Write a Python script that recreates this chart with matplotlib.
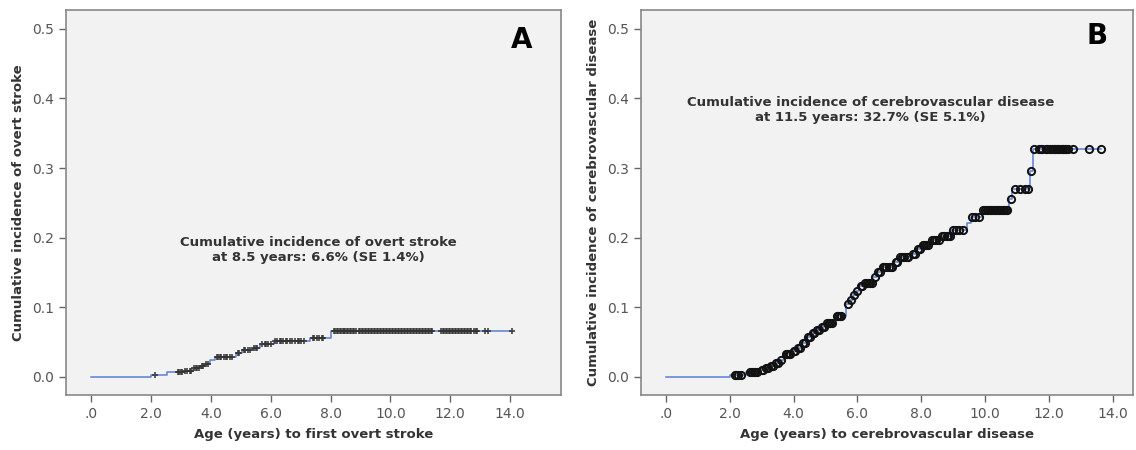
import numpy as np
import matplotlib
matplotlib.use("Agg")
import matplotlib.pyplot as plt

# ---- panel A: overt stroke ----
a_event_t = [0.0, 2.0, 2.55, 3.1, 3.4, 3.65, 3.8, 3.97, 4.15, 4.85, 5.05, 5.4,
             5.65, 6.1, 7.3, 8.02]
a_event_y = [0.0, 0.003, 0.0076, 0.009, 0.013, 0.016, 0.019, 0.024, 0.029, 0.035,
             0.039, 0.042, 0.047, 0.051, 0.056, 0.066]
a_censor_t = [2.15, 2.9, 2.95, 3.0, 3.05, 3.15, 3.2, 3.3, 3.35, 3.45, 3.5, 3.55, 3.6,
              3.7, 3.75, 3.85, 3.9, 4.2, 4.25, 4.3, 4.35, 4.45, 4.5, 4.55, 4.65,
              4.7, 4.9, 4.95, 5.1, 5.15, 5.25, 5.3, 5.45, 5.5, 5.55, 5.7, 5.8,
              5.85, 5.9, 6.0, 6.15, 6.2, 6.3, 6.35, 6.4, 6.5, 6.55, 6.65, 6.7,
              6.8, 6.9, 6.95, 7.0, 7.1, 7.4, 7.45, 7.55, 7.6, 7.7, 7.75,
              8.1, 8.15, 8.2, 8.25, 8.3, 8.35, 8.4, 8.45, 8.5, 8.55, 8.6, 8.65,
              8.7, 8.75, 8.8, 8.85, 8.95, 9.0, 9.05, 9.1, 9.15, 9.2, 9.25, 9.3,
              9.35, 9.4, 9.45, 9.5, 9.55, 9.6, 9.65, 9.7, 9.75, 9.8, 9.85, 9.9,
              9.95, 10.0, 10.05, 10.1, 10.15, 10.2, 10.25, 10.3, 10.35, 10.4,
              10.45, 10.5, 10.55, 10.6, 10.65, 10.7, 10.75, 10.8, 10.85, 10.9,
              10.95, 11.0, 11.05, 11.1, 11.15, 11.2, 11.25, 11.3, 11.35, 11.4,
              11.7, 11.75, 11.8, 11.85, 11.9, 11.95, 12.0, 12.05, 12.1, 12.15,
              12.2, 12.25, 12.3, 12.35, 12.4, 12.45, 12.5, 12.55, 12.6, 12.65,
              12.7, 12.8, 12.85, 12.9, 13.15, 13.25, 14.05]

# ---- panel B: cerebrovascular disease ----
b_event_t = [0.0, 2.0, 2.5, 2.9, 3.1, 3.25, 3.4, 3.55, 3.7, 3.95, 4.1, 4.25, 4.4,
             4.55, 4.7, 4.85, 5.0, 5.3, 5.65, 5.75, 5.85, 5.95, 6.05, 6.2, 6.5,
             6.6, 6.75, 7.15, 7.3, 7.7, 7.85, 8.0, 8.3, 8.6, 8.95, 9.45, 9.55,
             9.9, 10.75, 10.85, 11.4, 11.5]
b_event_y = [0.0, 0.003, 0.007, 0.010, 0.013, 0.016, 0.020, 0.024, 0.033, 0.037,
             0.042, 0.049, 0.058, 0.063, 0.068, 0.072, 0.077, 0.088, 0.105, 0.111,
             0.118, 0.124, 0.130, 0.135, 0.143, 0.150, 0.158, 0.165, 0.172, 0.177,
             0.184, 0.190, 0.196, 0.203, 0.211, 0.221, 0.230, 0.240, 0.255, 0.270,
             0.296, 0.327]
b_censor_t = [2.15, 2.2, 2.25, 2.35, 2.65, 2.7, 2.75, 2.8, 2.85, 3.0, 3.05, 3.15,
              3.2, 3.3, 3.35, 3.45, 3.5, 3.6, 3.75, 3.8, 3.85, 3.9, 4.0, 4.05, 4.15,
              4.2, 4.3, 4.35, 4.45, 4.5, 4.6, 4.65, 4.75, 4.8, 4.9, 4.95, 5.05,
              5.1, 5.15, 5.2, 5.35, 5.4, 5.45, 5.5, 5.7, 5.8, 5.9, 6.0, 6.1, 6.15,
              6.25, 6.3, 6.35, 6.4, 6.45, 6.55, 6.65, 6.7, 6.8, 6.85, 6.9, 7.0,
              7.05, 7.1, 7.2, 7.25, 7.35, 7.4, 7.45, 7.55, 7.6, 7.75, 7.8, 7.9,
              7.95, 8.05, 8.1, 8.15, 8.2, 8.35, 8.4, 8.45, 8.55, 8.65, 8.7, 8.8,
              8.85, 8.9, 9.0, 9.1, 9.2, 9.3, 9.6, 9.7, 9.8, 9.95, 10.0, 10.05, 10.1,
              10.15, 10.2, 10.25, 10.3, 10.35, 10.4, 10.45, 10.5, 10.55, 10.6,
              10.65, 10.7, 10.8, 10.95, 11.1, 11.25, 11.35, 11.45, 11.55, 11.7,
              11.75, 11.8, 11.9, 11.95, 12.05, 12.1, 12.15, 12.2, 12.25, 12.3,
              12.35, 12.4, 12.45, 12.5, 12.55, 12.6, 12.75, 13.25, 13.65]

x_ticks = [0, 2, 4, 6, 8, 10, 12, 14]
x_ticklabels = [".0", "2.0", "4.0", "6.0", "8.0", "10.0", "12.0", "14.0"]
y_ticks = [0.0, 0.1, 0.2, 0.3, 0.4, 0.5]
y_ticklabels = ["0.0", "0.1", "0.2", "0.3", "0.4", "0.5"]

LINE = "#5b7fd4"
TXT = "#333333"


def km_panel(ax, ev_t, ev_y, cens_t, marker, xlim, xlabel, ylabel, note, note_xy, letter, letter_xy):
    ev_t = np.array(ev_t)
    ev_y = np.array(ev_y)
    cens_t = np.array(cens_t)
    t_end = max(cens_t.max(), ev_t.max())
    ax.plot(np.append(ev_t, t_end), np.append(ev_y, ev_y[-1]),
            drawstyle="steps-post", color=LINE, lw=1.1, zorder=2)
    # censored points sit on the step curve
    idx = np.searchsorted(ev_t, cens_t, side="right") - 1
    cy = ev_y[idx]
    if marker == "+":
        ax.plot(cens_t, cy, "+", color="#333333", ms=5, mew=1.3, alpha=0.85, zorder=3)
    else:
        ax.plot(cens_t, cy, "o", mfc="none", mec="#111111", ms=5.2, mew=1.4, zorder=3)

    ax.set_facecolor("#f2f2f2")
    ax.set_xlim(*xlim)
    ax.set_ylim(-0.026, 0.527)
    ax.set_xticks(x_ticks)
    ax.set_xticklabels(x_ticklabels)
    ax.set_yticks(y_ticks)
    ax.set_yticklabels(y_ticklabels)
    ax.tick_params(direction="out", length=5, width=1, color="#666666",
                   labelcolor="#555555", labelsize=10)
    for s in ax.spines.values():
        s.set_color("#888888")
        s.set_linewidth(1.2)
    ax.set_xlabel(xlabel, fontsize=9.5, fontweight="bold", color=TXT, labelpad=5)
    ax.set_ylabel(ylabel, fontsize=9.5, fontweight="bold", color=TXT, labelpad=5)
    ax.text(note_xy[0], note_xy[1], note, ha="center", va="center", fontsize=9.5,
            fontweight="bold", color=TXT, linespacing=1.2)
    ax.text(letter_xy[0], letter_xy[1], letter, ha="center", va="center",
            fontsize=20, fontweight="bold", color="black")


fig = plt.figure(figsize=(11.36, 4.5), dpi=100)
ax1 = fig.add_axes([0.0581, 0.1222, 0.4357, 0.8556])
ax2 = fig.add_axes([0.5643, 0.1222, 0.4331, 0.8556])

km_panel(ax1, a_event_t, a_event_y, a_censor_t, "+", (-0.84, 15.7),
         "Age (years) to first overt stroke", "Cumulative incidence of overt stroke",
         "Cumulative incidence of overt stroke\nat 8.5 years: 6.6% (SE 1.4%)", (7.6, 0.182),
         "A", (14.4, 0.484))
km_panel(ax2, b_event_t, b_event_y, b_censor_t, "o", (-0.78, 14.64),
         "Age (years) to cerebrovascular disease", "Cumulative incidence of cerebrovascular disease",
         "Cumulative incidence of cerebrovascular disease\nat 11.5 years: 32.7% (SE 5.1%)", (6.4, 0.383),
         "B", (13.5, 0.489))

fig.savefig("out.png", dpi=100, facecolor="white")
